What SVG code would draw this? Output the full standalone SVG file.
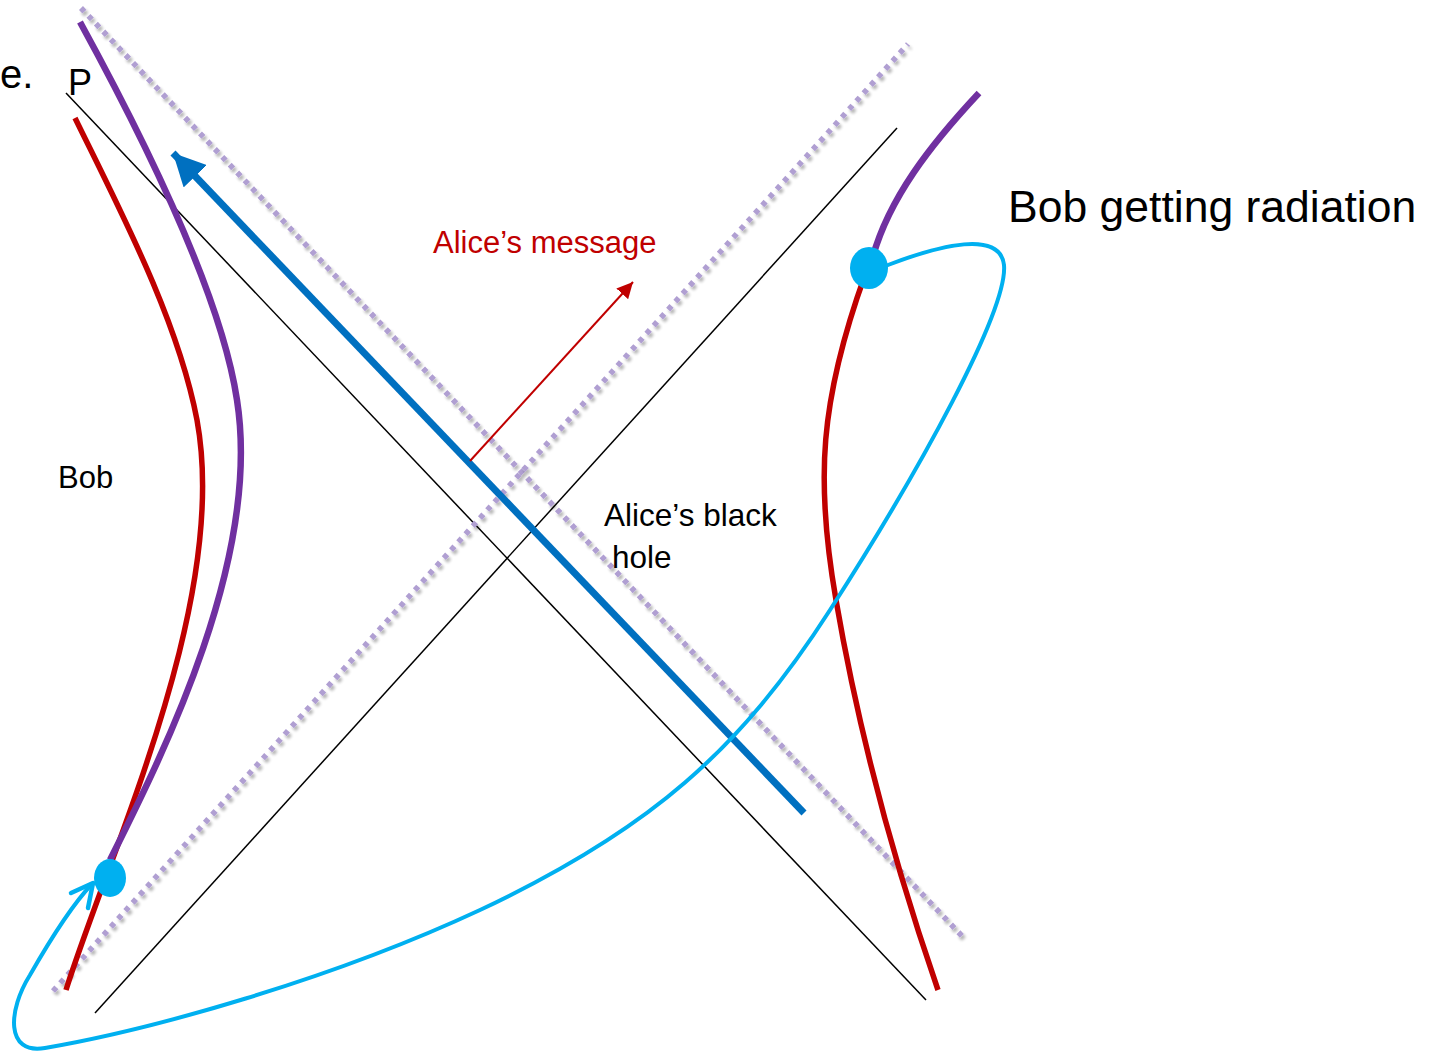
<svg xmlns="http://www.w3.org/2000/svg" width="1431" height="1054" viewBox="0 0 1431 1054">
<style>
.t{font-family:"Liberation Sans",Arial,sans-serif;fill:#000}
.thin{stroke:#000;stroke-width:1.5;fill:none}
.dot{stroke:#b09fd2;stroke-width:5.5;stroke-dasharray:5 5.8;fill:none;filter:url(#sh)}
.red{stroke:#c00000;stroke-width:5.5;fill:none;stroke-linecap:butt}
.pur{stroke:#7030a0;stroke-width:6.5;fill:none}
</style>
<defs>
<filter id="sh" x="-10%" y="-10%" width="120%" height="120%">
<feGaussianBlur in="SourceAlpha" stdDeviation="1.8"/>
<feOffset dx="2" dy="3" result="b"/>
<feComponentTransfer><feFuncA type="linear" slope="0.3"/></feComponentTransfer>
<feMerge><feMergeNode/><feMergeNode in="SourceGraphic"/></feMerge>
</filter>
<marker id="ab" viewBox="0 0 10 10" refX="10" refY="5" markerWidth="4.6" markerHeight="4.6" orient="auto" markerUnits="strokeWidth"><path d="M0,0 L10,5 L0,10 Z" fill="#0070c0"/></marker>
<marker id="ar" viewBox="0 0 10 10" refX="10" refY="5" markerWidth="8" markerHeight="8" orient="auto" markerUnits="strokeWidth"><path d="M0,0 L10,5 L0,10 Z" fill="#c00000"/></marker>
</defs>
<g id="connectors">
<line class="thin" x1="66" y1="93" x2="926" y2="1000"/>
<line class="thin" x1="95" y1="1013" x2="897" y2="128"/>
<line class="dot" x1="81" y1="8" x2="962" y2="936"/>
<line class="dot" x1="53" y1="991" x2="908" y2="44"/>
<path class="red" d="M66,990 C110,850 230,600 197,420 C178,320 120,210 75,118"/>
<path class="pur" d="M110,860 C160,760 262,560 237,400 C222,300 150,150 80,22"/>
<path class="red" d="M938,990 C900,880 860,740 836,600 C815,480 820,400 865,275"/>
<path class="pur" d="M979,93 C935,140 885,200 870,268"/>
<line x1="804" y1="813" x2="173" y2="153" stroke="#0070c0" stroke-width="7" marker-end="url(#ab)"/>
<line x1="470" y1="461" x2="633" y2="282" stroke="#c00000" stroke-width="2" marker-end="url(#ar)"/>
<path d="M888,265 C940,245 1000,230 1004,265 C1008,310 920,470 830,610 C740,750 650,830 480,910 C330,980 150,1030 45,1048 C5,1055 8,1010 30,975 C50,940 72,905 92,884" stroke="#00b0f0" stroke-width="4" fill="none" stroke-linecap="round"/>
<path d="M71,893 L93,883 L88,908" stroke="#00b0f0" stroke-width="4.5" fill="none" stroke-linecap="round" stroke-linejoin="round"/>
</g>
<g id="dot-right"><ellipse cx="869" cy="268" rx="19" ry="21" fill="#00b0f0"/></g>
<g id="dot-left"><ellipse cx="110" cy="878" rx="16" ry="19" fill="#00b0f0"/></g>
<g id="labels">
<text class="t" x="0" y="88" font-size="40">e.</text>
<text class="t" x="68" y="95" font-size="36">P</text>
<text class="t" x="1008" y="222" font-size="44.5">Bob getting radiation</text>
<text class="t" x="433" y="253" font-size="31" style="fill:#c00000">Alice’s message</text>
<text class="t" x="58" y="488" font-size="31">Bob</text>
<text class="t" x="604" y="526" font-size="31.5">Alice’s black</text>
<text class="t" x="612" y="568" font-size="31.5">hole</text>
</g>
</svg>
